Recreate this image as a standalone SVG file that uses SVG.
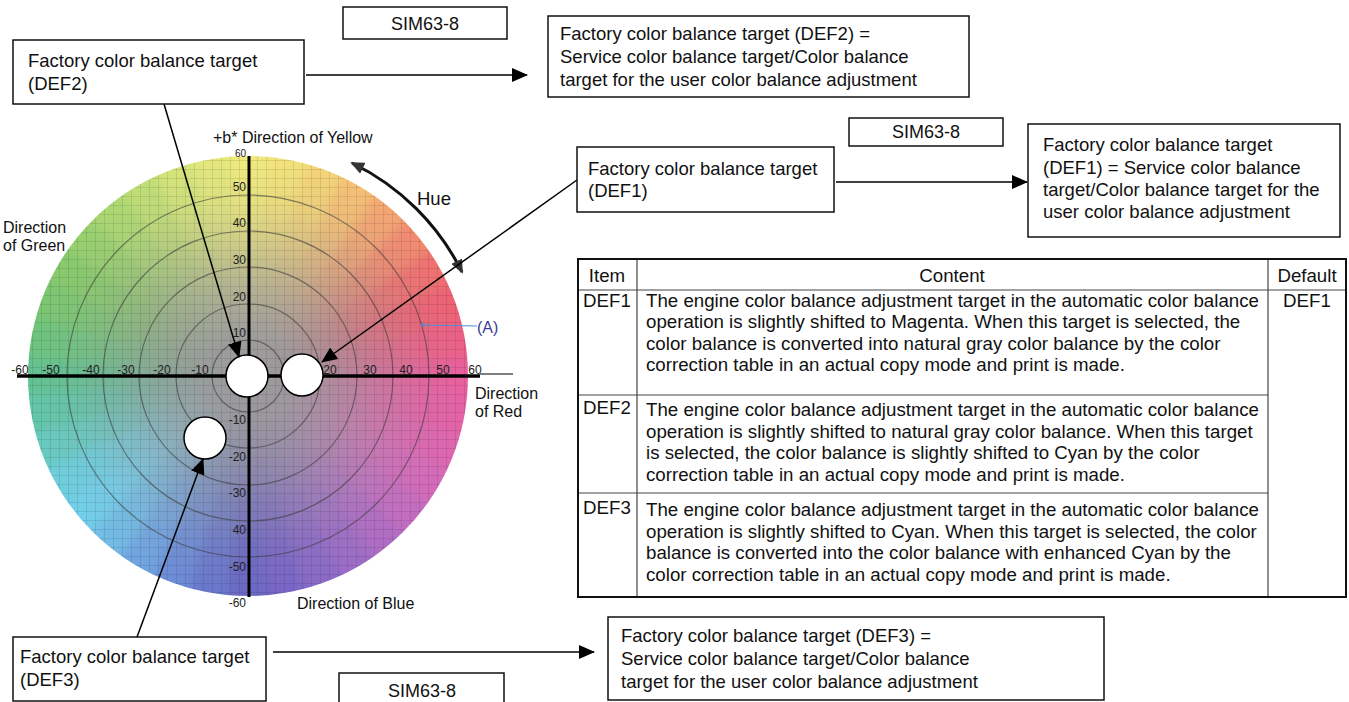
<svg xmlns="http://www.w3.org/2000/svg" xmlns:xlink="http://www.w3.org/1999/xlink" width="1349" height="702" viewBox="0 0 1349 702">
<style>
text{font-family:"Liberation Sans",Arial,sans-serif;fill:#111;}
.t18{font-size:18.5px;}
.tb{font-size:18.7px;}
.t16{font-size:16px;}
.sim{font-size:18px;}
.ax{font-size:12px;fill:#222;}
.box{fill:#fff;stroke:#111;stroke-width:1.5;}
.conn{stroke:#000;stroke-width:1.5;fill:none;}
.ring{fill:none;stroke:#3c3c3c;stroke-opacity:0.6;stroke-width:1.2;}
.grid{stroke:#000;stroke-opacity:0.13;stroke-width:0.8;}
.tgt{fill:#fff;stroke:#000;stroke-width:1.5;}
.tl{stroke:#444;stroke-width:1.2;}
</style>
<defs>
<marker id="ah" markerWidth="16" markerHeight="14" refX="15" refY="7" orient="auto" markerUnits="userSpaceOnUse"><path d="M0,0 L16,7 L0,14 Z" fill="#000"/></marker>
<marker id="hh" markerWidth="14" markerHeight="12" refX="12" refY="6" orient="auto-start-reverse" markerUnits="userSpaceOnUse"><path d="M0,0 L14,6 L0,12 Z" fill="#333"/></marker>
<path id="w" d="M0,0 L238.99,-21.96 A240,240 0 0,1 238.99,21.96 Z"/>
<filter id="bl" x="-20%" y="-20%" width="140%" height="140%"><feGaussianBlur stdDeviation="6"/></filter>
<pattern id="gp" x="248" y="376" width="9" height="9" patternUnits="userSpaceOnUse"><path class="grid" d="M0,0.4 H9 M0.4,0 V9"/></pattern>
<radialGradient id="gray" cx="248" cy="376" r="220" gradientUnits="userSpaceOnUse">
<stop offset="0" stop-color="#9b9a9c" stop-opacity="1"/>
<stop offset="0.2" stop-color="#9b9a9c" stop-opacity="0.95"/>
<stop offset="0.4" stop-color="#9b9a9c" stop-opacity="0.7"/>
<stop offset="0.6" stop-color="#9b9a9c" stop-opacity="0.38"/>
<stop offset="0.8" stop-color="#9b9a9c" stop-opacity="0.12"/>
<stop offset="1" stop-color="#9b9a9c" stop-opacity="0"/>
</radialGradient>
<clipPath id="cc"><circle cx="248" cy="376" r="220"/></clipPath>
</defs>
<rect width="1349" height="702" fill="#fff"/>

<g id="color-wheel">
<g clip-path="url(#cc)">
<g filter="url(#bl)">
<g transform="translate(248,376)">
<use xlink:href="#w" fill="#e8609e" transform="rotate(0)"/>
<use xlink:href="#w" fill="#ec6086" transform="rotate(-10)"/>
<use xlink:href="#w" fill="#ee6274" transform="rotate(-20)"/>
<use xlink:href="#w" fill="#f07070" transform="rotate(-30)"/>
<use xlink:href="#w" fill="#f28a70" transform="rotate(-40)"/>
<use xlink:href="#w" fill="#f4a672" transform="rotate(-50)"/>
<use xlink:href="#w" fill="#f5c074" transform="rotate(-60)"/>
<use xlink:href="#w" fill="#f4d478" transform="rotate(-70)"/>
<use xlink:href="#w" fill="#f3e27a" transform="rotate(-80)"/>
<use xlink:href="#w" fill="#f0ea7e" transform="rotate(-90)"/>
<use xlink:href="#w" fill="#e4e87c" transform="rotate(-100)"/>
<use xlink:href="#w" fill="#d4e47a" transform="rotate(-110)"/>
<use xlink:href="#w" fill="#c0de76" transform="rotate(-120)"/>
<use xlink:href="#w" fill="#acd872" transform="rotate(-130)"/>
<use xlink:href="#w" fill="#98d06e" transform="rotate(-140)"/>
<use xlink:href="#w" fill="#88ca6c" transform="rotate(-150)"/>
<use xlink:href="#w" fill="#7cc672" transform="rotate(-160)"/>
<use xlink:href="#w" fill="#6ec47e" transform="rotate(-170)"/>
<use xlink:href="#w" fill="#62c290" transform="rotate(-180)"/>
<use xlink:href="#w" fill="#62c6a8" transform="rotate(-190)"/>
<use xlink:href="#w" fill="#68cac0" transform="rotate(-200)"/>
<use xlink:href="#w" fill="#6ecede" transform="rotate(-210)"/>
<use xlink:href="#w" fill="#72cfea" transform="rotate(-220)"/>
<use xlink:href="#w" fill="#72bce6" transform="rotate(-230)"/>
<use xlink:href="#w" fill="#70a4e0" transform="rotate(-240)"/>
<use xlink:href="#w" fill="#6c8cd6" transform="rotate(-250)"/>
<use xlink:href="#w" fill="#6a78cc" transform="rotate(-260)"/>
<use xlink:href="#w" fill="#6a68c4" transform="rotate(-270)"/>
<use xlink:href="#w" fill="#7866c6" transform="rotate(-280)"/>
<use xlink:href="#w" fill="#8a6ac6" transform="rotate(-290)"/>
<use xlink:href="#w" fill="#9c6cc6" transform="rotate(-300)"/>
<use xlink:href="#w" fill="#b06cc4" transform="rotate(-310)"/>
<use xlink:href="#w" fill="#c46cc0" transform="rotate(-320)"/>
<use xlink:href="#w" fill="#d46aba" transform="rotate(-330)"/>
<use xlink:href="#w" fill="#de66b0" transform="rotate(-340)"/>
<use xlink:href="#w" fill="#e462a6" transform="rotate(-350)"/>
</g>
</g>
<circle cx="248" cy="376" r="220" fill="url(#gray)"/>
<rect x="28" y="156" width="440" height="441" fill="url(#gp)"/>
</g>
<circle class="ring" cx="248" cy="376" r="36"/>
<circle class="ring" cx="248" cy="376" r="72"/>
<circle class="ring" cx="248" cy="376" r="109"/>
<circle class="ring" cx="248" cy="376" r="145"/>
<circle class="ring" cx="248" cy="376" r="181"/>
</g>

<g id="axis-labels">
<text x="20" y="374" text-anchor="middle" class="ax">-60</text>
<text x="51" y="374" text-anchor="middle" class="ax">-50</text>
<text x="91" y="374" text-anchor="middle" class="ax">-40</text>
<text x="126" y="374" text-anchor="middle" class="ax">-30</text>
<text x="162" y="374" text-anchor="middle" class="ax">-20</text>
<text x="200" y="374" text-anchor="middle" class="ax">-10</text>
<text x="330" y="374" text-anchor="middle" class="ax">20</text>
<text x="370" y="374" text-anchor="middle" class="ax">30</text>
<text x="406" y="374" text-anchor="middle" class="ax">40</text>
<text x="443" y="374" text-anchor="middle" class="ax">50</text>
<text x="475" y="374" text-anchor="middle" class="ax">60</text>
<text x="246" y="157" text-anchor="end" class="ax" style="font-size:10px">60</text>
<text x="246" y="191" text-anchor="end" class="ax">50</text>
<text x="246" y="227" text-anchor="end" class="ax">40</text>
<text x="246" y="264" text-anchor="end" class="ax">30</text>
<text x="246" y="301" text-anchor="end" class="ax">20</text>
<text x="246" y="337" text-anchor="end" class="ax">10</text>
<text x="246" y="424" text-anchor="end" class="ax">-10</text>
<text x="246" y="461" text-anchor="end" class="ax">-20</text>
<text x="246" y="497" text-anchor="end" class="ax">-30</text>
<text x="246" y="534" text-anchor="end" class="ax">40</text>
<text x="246" y="571" text-anchor="end" class="ax">-50</text>
<text x="246" y="607" text-anchor="end" class="ax">-60</text>
</g>

<g id="axes">
<line x1="17" y1="376" x2="480" y2="376" stroke="#000" stroke-width="3.5"/>
<line x1="480" y1="374" x2="513" y2="374" stroke="#000" stroke-width="1.2"/>
<line x1="249" y1="156" x2="249" y2="597" stroke="#000" stroke-width="3"/>
</g>

<g id="wheel-labels">
<text x="213" y="143" class="t16">+b* Direction of Yellow</text>
<text x="297" y="609" class="t16">Direction of Blue</text>
<text x="3" y="233" class="t16">Direction</text>
<text x="3" y="251" class="t16">of Green</text>
<text x="475" y="399" class="t16">Direction</text>
<text x="475" y="417" class="t16">of Red</text>
<text x="417" y="205" class="t18">Hue</text>
<line x1="423" y1="325" x2="477" y2="326" stroke="#4a8fd8" stroke-width="1.2"/>
<circle cx="423" cy="325" r="1.8" fill="#4a8fd8"/>
<text x="477" y="333" class="t16" style="fill:#3c3c96">(A)</text>
</g>

<g id="hue-arrow">
<path d="M352,163 A240,240 0 0,1 462,272" fill="none" stroke="#111" stroke-width="3" marker-start="url(#hh)" marker-end="url(#hh)"/>
</g>

<g id="target-def2"><circle class="tgt" cx="247" cy="376" r="21"/></g>
<g id="target-def1"><circle class="tgt" cx="302" cy="375" r="21"/></g>
<g id="target-def3"><circle class="tgt" cx="205" cy="438" r="21"/></g>

<g id="connectors">
<line class="conn" x1="306" y1="75" x2="527" y2="75" marker-end="url(#ah)"/>
<line class="conn" x1="164" y1="104" x2="239" y2="357" marker-end="url(#ah)"/>
<line class="conn" x1="836" y1="182" x2="1027" y2="182" marker-end="url(#ah)"/>
<line class="conn" x1="577" y1="180" x2="322" y2="362" marker-end="url(#ah)"/>
<line class="conn" x1="273" y1="652" x2="594" y2="652" marker-end="url(#ah)"/>
<line class="conn" x1="137" y1="637" x2="203" y2="459" marker-end="url(#ah)"/>
</g>

<g id="sim-top">
<rect class="box" x="343" y="7" width="164" height="32"/>
<text x="425" y="30" class="sim" text-anchor="middle">SIM63-8</text>
</g>
<g id="def2-box">
<rect class="box" x="13" y="40" width="291" height="64"/>
<text x="28" y="67" class="t18">Factory color balance target</text>
<text x="28" y="90" class="t18">(DEF2)</text>
</g>
<g id="def2-result">
<rect class="box" x="548" y="16" width="421" height="81"/>
<text x="560" y="40" class="t18">Factory color balance target (DEF2) =</text>
<text x="560" y="63" class="t18">Service color balance target/Color balance</text>
<text x="560" y="86" class="t18">target for the user color balance adjustment</text>
</g>
<g id="sim-mid">
<rect class="box" x="849" y="118" width="154" height="28"/>
<text x="926" y="138" class="sim" text-anchor="middle">SIM63-8</text>
</g>
<g id="def1-box">
<rect class="box" x="577" y="147" width="257" height="65"/>
<text x="588" y="175" class="t18">Factory color balance target</text>
<text x="588" y="197" class="t18">(DEF1)</text>
</g>
<g id="def1-result">
<rect class="box" x="1028" y="124" width="312" height="113"/>
<text x="1043" y="151" class="t18">Factory color balance target</text>
<text x="1043" y="174" class="t18">(DEF1) = Service color balance</text>
<text x="1043" y="196" class="t18">target/Color balance target for the</text>
<text x="1043" y="218" class="t18">user color balance adjustment</text>
</g>
<g id="def3-box">
<rect class="box" x="13" y="637" width="253" height="64"/>
<text x="20" y="663" class="t18">Factory color balance target</text>
<text x="20" y="686" class="t18">(DEF3)</text>
</g>
<g id="sim-bottom">
<rect class="box" x="339" y="673" width="165" height="35"/>
<text x="422" y="697" class="sim" text-anchor="middle">SIM63-8</text>
</g>
<g id="def3-result">
<rect class="box" x="608" y="617" width="496" height="83"/>
<text x="621" y="642" class="t18">Factory color balance target (DEF3) =</text>
<text x="621" y="665" class="t18">Service color balance target/Color balance</text>
<text x="621" y="688" class="t18">target for the user color balance adjustment</text>
</g>

<g id="table">
<line class="tl" x1="578" y1="290" x2="1346" y2="290"/>
<line class="tl" x1="578" y1="395" x2="1268" y2="395"/>
<line class="tl" x1="578" y1="493" x2="1268" y2="493"/>
<line class="tl" x1="637" y1="259" x2="637" y2="597"/>
<line class="tl" x1="1268" y1="259" x2="1268" y2="597"/>
<rect x="578" y="259" width="768" height="338" fill="none" stroke="#111" stroke-width="2"/>
<text x="607" y="282" class="tb" text-anchor="middle">Item</text>
<text x="952" y="282" class="tb" text-anchor="middle">Content</text>
<text x="1307" y="282" class="tb" text-anchor="middle">Default</text>
<text x="583" y="307" class="tb">DEF1</text>
<text x="1307" y="307" class="tb" text-anchor="middle">DEF1</text>
<text x="646" y="307" class="tb">The engine color balance adjustment target in the automatic color balance</text>
<text x="646" y="328" class="tb">operation is slightly shifted to Magenta. When this target is selected, the</text>
<text x="646" y="350" class="tb">color balance is converted into natural gray color balance by the color</text>
<text x="646" y="371" class="tb">correction table in an actual copy mode and print is made.</text>
<text x="583" y="414" class="tb">DEF2</text>
<text x="646" y="416" class="tb">The engine color balance adjustment target in the automatic color balance</text>
<text x="646" y="438" class="tb">operation is slightly shifted to natural gray color balance. When this target</text>
<text x="646" y="459" class="tb">is selected, the color balance is slightly shifted to Cyan by the color</text>
<text x="646" y="481" class="tb">correction table in an actual copy mode and print is made.</text>
<text x="583" y="514" class="tb">DEF3</text>
<text x="646" y="516" class="tb">The engine color balance adjustment target in the automatic color balance</text>
<text x="646" y="538" class="tb">operation is slightly shifted to Cyan. When this target is selected, the color</text>
<text x="646" y="559" class="tb">balance is converted into the color balance with enhanced Cyan by the</text>
<text x="646" y="581" class="tb">color correction table in an actual copy mode and print is made.</text>
</g>
</svg>
